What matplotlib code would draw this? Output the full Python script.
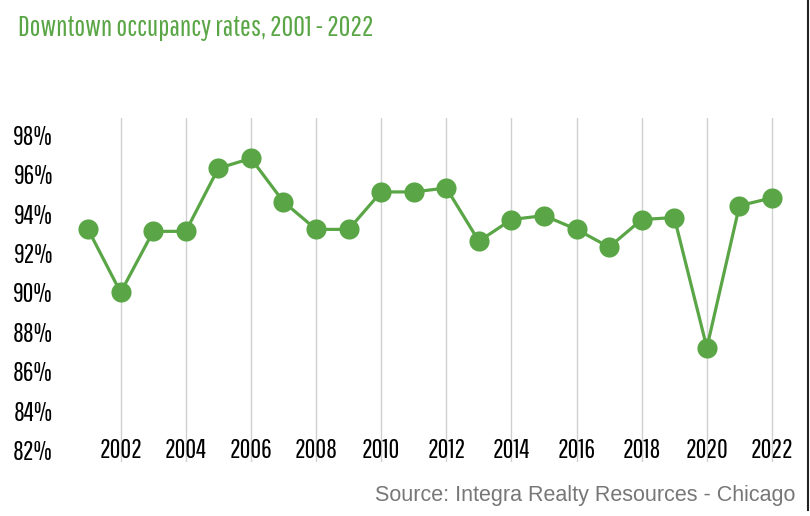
import numpy as np
import matplotlib.pyplot as plt
from matplotlib.lines import Line2D

# occupancy data
years = list(range(2001, 2023))
occupancy = [93.2, 90.0, 93.1, 93.1, 96.3, 96.8, 94.6, 93.2, 93.2, 95.1, 95.1,
             95.3, 92.6, 93.7, 93.9, 93.2, 92.3, 93.7, 93.8, 87.2, 94.4, 94.8]
xticks = list(range(2002, 2023, 2))
yticks = list(range(82, 99, 2))

green = '#5aa646'
narrow = ['Pathway Gothic One', 'DejaVu Sans']

fig = plt.figure(figsize=(8.10, 5.16), dpi=100)
ax = fig.add_axes([78/810, 1 - 462/516, (800-78)/810, (462-118)/516])

ax.plot(years, occupancy, color=green, lw=2.3, marker='o', ms=14.5,
        markeredgewidth=0, zorder=3)

ax.set_xlim(2000.69, 2022.86)
ax.set_ylim(81.4, 98.85)
ax.set_xticks(xticks)
ax.set_yticks(yticks)
ax.set_yticklabels([f'{v}%' for v in yticks], fontfamily=narrow, fontsize=19)
ax.set_xticklabels([str(y) for y in xticks], fontfamily=narrow, fontsize=19)
ax.tick_params(axis='both', length=0)
ax.tick_params(axis='y', pad=18)
ax.tick_params(axis='x', pad=-17)
for lbl in ax.get_xticklabels():
    lbl.set_zorder(5)

ax.grid(axis='x', color='#d0d0d0', lw=1)
ax.grid(axis='y', visible=False)
for s in ax.spines.values():
    s.set_visible(False)

fig.text(18/810, 1 - 28/516, 'Downtown occupancy rates, 2001 - 2022',
         color=green, fontsize=20.7, fontfamily=narrow, va='center', ha='left')
fig.text(795/810, 1 - 496/516, 'Source: Integra Realty Resources - Chicago',
         color='#777777', fontsize=15.5, fontfamily='Liberation Sans',
         va='center', ha='right')

# dark border at the right edge
fig.add_artist(Line2D([808/810, 808/810], [1 - 510/516, 1], color='#222222',
                      lw=1.5, transform=fig.transFigure))

fig.savefig('out.png', dpi=100, facecolor='white')
